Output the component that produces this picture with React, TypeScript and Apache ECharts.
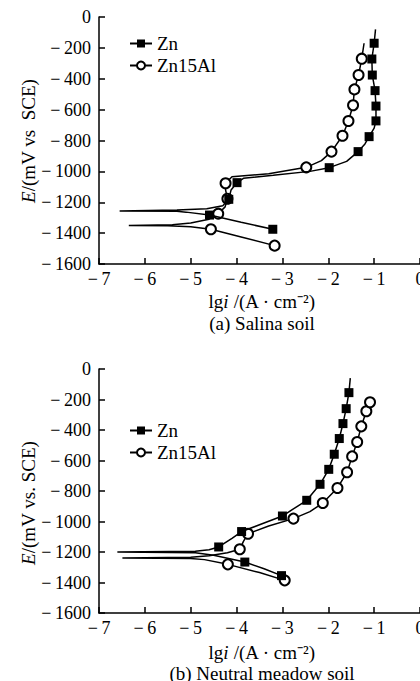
import React, { useEffect, useRef } from "react";
import * as echarts from "echarts";

// [lg i, E (mV), marker flag]
const salinaZn: number[][] = [
  [-3.21, -1375, 1], [-3.9, -1330, 0], [-4.59, -1283, 1], [-5.1, -1264, 0], [-5.3, -1258, 0],
  [-6.55, -1256, 0], [-5.3, -1250, 0], [-4.65, -1242, 0], [-4.3, -1222, 0], [-4.17, -1181, 1],
  [-4.12, -1120, 0], [-3.99, -1073, 1], [-3.85, -1045, 0], [-3.2, -1025, 0], [-2.4, -1000, 0],
  [-1.98, -976, 1], [-1.6, -935, 0], [-1.35, -872, 1], [-1.2, -822, 0], [-1.11, -775, 1],
  [-1.0, -720, 0], [-0.96, -673, 1], [-0.96, -577, 1], [-0.98, -477, 1], [-1.04, -376, 1],
  [-1.05, -272, 1], [-1.0, -170, 1], [-0.97, -80, 0],
];
const salinaZnAl: number[][] = [
  [-3.17, -1481, 1], [-3.9, -1425, 0], [-4.56, -1375, 1], [-5.0, -1358, 0], [-5.5, -1352, 0],
  [-6.35, -1350, 0], [-5.4, -1345, 0], [-5.0, -1335, 0], [-4.6, -1310, 0], [-4.4, -1274, 1],
  [-4.25, -1230, 0], [-4.2, -1177, 1], [-4.24, -1120, 0], [-4.24, -1077, 1], [-4.1, -1035, 0],
  [-3.3, -1015, 0], [-2.48, -974, 1], [-2.15, -930, 0], [-1.93, -872, 1], [-1.69, -769, 1],
  [-1.56, -674, 1], [-1.46, -572, 1], [-1.43, -469, 1], [-1.34, -376, 1], [-1.27, -270, 1],
  [-1.22, -170, 0],
];
const meadowZn: number[][] = [
  [-3.02, -1355, 1], [-3.4, -1310, 0], [-3.82, -1266, 1], [-4.5, -1222, 0], [-4.9, -1205, 0],
  [-6.6, -1200, 0], [-4.9, -1195, 0], [-4.6, -1185, 0], [-4.39, -1167, 1], [-4.1, -1110, 0],
  [-3.89, -1066, 1], [-3.4, -1010, 0], [-3.0, -964, 1], [-2.7, -905, 0], [-2.47, -861, 1],
  [-2.18, -756, 1], [-1.99, -658, 1], [-1.87, -559, 1], [-1.76, -456, 1], [-1.68, -358, 1],
  [-1.61, -260, 1], [-1.55, -155, 1], [-1.52, -60, 0],
];
const meadowZnAl: number[][] = [
  [-2.95, -1386, 1], [-3.5, -1335, 0], [-4.19, -1281, 1], [-4.7, -1250, 0], [-5.0, -1242, 0],
  [-6.49, -1239, 0], [-5.0, -1235, 0], [-4.6, -1225, 0], [-4.2, -1205, 0], [-3.93, -1182, 1],
  [-3.85, -1130, 0], [-3.75, -1080, 1], [-3.3, -1030, 0], [-2.76, -981, 1], [-2.4, -935, 0],
  [-2.12, -879, 1], [-1.8, -780, 1], [-1.59, -677, 1], [-1.48, -573, 1], [-1.37, -479, 1],
  [-1.28, -376, 1], [-1.17, -277, 1], [-1.09, -218, 1],
];

const seriesNames = ["Zn", "Zn15Al"];
const panelTitles = ["(a) Salina soil", "(b) Neutral meadow soil"];
const yNames = ["{i|E}/(mV vs  SCE)", "{i|E}/(mV vs. SCE)"];
const xName = "lg{i|i} /(A · cm\u207B\u00B2)";

const FONT = "Liberation Serif";

const minus = (v: number) => (v < 0 ? "\u2212\u2009" + Math.abs(v) : String(v));

const toData = (arr: number[][]) =>
  arr.map((p) => (p[2] ? { value: [p[0], p[1]] } : { value: [p[0], p[1]], symbol: "none" }));

export default function App() {
  const ref = useRef<HTMLDivElement>(null);
  useEffect(() => {
    if (!ref.current) return;
    const chart = echarts.init(ref.current, undefined, { renderer: "svg" });
    const grids = [
      { left: 99, top: 17, width: 321, height: 247, outerBoundsMode: "none", containLabel: false },
      { left: 99, top: 369, width: 321, height: 244, outerBoundsMode: "none", containLabel: false },
    ];
    const labelStyle = { color: "#000", fontFamily: FONT, fontSize: 18 };
    const xAxis = grids.map((_, i) => ({
      type: "value",
      gridIndex: i,
      min: -7,
      max: 0,
      interval: 1,
      position: "bottom",
      splitLine: { show: false },
      axisLine: { onZero: false, lineStyle: { color: "#000", width: 1.5 } },
      axisTick: { inside: true, length: 6, lineStyle: { color: "#000", width: 1.5 } },
      axisLabel: { ...labelStyle, margin: 6, formatter: minus },
    }));
    const yAxis = grids.map((_, i) => ({
      type: "value",
      gridIndex: i,
      min: -1600,
      max: 0,
      interval: 200,
      position: "left",
      splitLine: { show: false },
      axisLine: { show: true, onZero: false, lineStyle: { color: "#000", width: 1.5 } },
      axisTick: { show: true, inside: true, length: 6, lineStyle: { color: "#000", width: 1.5 } },
      axisLabel: { ...labelStyle, margin: 8, formatter: minus },
    }));
    const sets = [
      [salinaZn, salinaZnAl],
      [meadowZn, meadowZnAl],
    ];
    const series: any[] = [];
    sets.forEach((pair, gi) => {
      pair.forEach((arr, si) => {
        series.push({
          type: "line",
          name: seriesNames[si],
          xAxisIndex: gi,
          yAxisIndex: gi,
          data: toData(arr),
          symbol: si === 0 ? "rect" : "emptyCircle",
          symbolSize: si === 0 ? 9 : 10,
          showSymbol: true,
          lineStyle: { color: "#000", width: 1.5 },
          itemStyle: { color: "#000", borderColor: "#000", borderWidth: si === 0 ? 0 : 1.5 },
          emphasis: { disabled: true },
          z: si === 0 ? 3 : 2,
        });
      });
    });
    const textStyleBase = { fill: "#000", fontFamily: FONT, fontSize: 19 };
    const rich = { i: { fontStyle: "italic", fontFamily: FONT, fontSize: 19, fill: "#000" } };
    const graphic: any[] = [];
    const yNameY = [141, 503];
    const xNameY = [301, 652];
    const subY = [323, 673];
    [0, 1].forEach((i) => {
      graphic.push({
        type: "text",
        x: 28,
        y: yNameY[i],
        rotation: Math.PI / 2,
        style: { ...textStyleBase, text: yNames[i], rich, align: "center", verticalAlign: "middle" },
      });
      graphic.push({
        type: "text",
        x: 262,
        y: xNameY[i],
        style: { ...textStyleBase, text: xName, rich, align: "center", verticalAlign: "middle" },
      });
      graphic.push({
        type: "text",
        x: 262,
        y: subY[i],
        style: { ...textStyleBase, text: panelTitles[i], align: "center", verticalAlign: "middle" },
      });
    });
    const legendTops = [29, 416];
    chart.setOption({
      animation: false,
      backgroundColor: "#fff",
      textStyle: { fontFamily: FONT, color: "#000" },
      grid: grids,
      xAxis,
      yAxis,
      series,
      graphic,
      legend: legendTops.map((t) => ({
        data: seriesNames,
        orient: "vertical",
        left: 124,
        top: t,
        itemWidth: 22,
        itemHeight: 10,
        itemGap: 3,
        selectedMode: false,
        textStyle: { color: "#000", fontFamily: FONT, fontSize: 19 },
      })),
    });
    return () => chart.dispose();
  }, []);
  return (
    <div
      ref={ref}
      style={{ position: "absolute", left: 0, top: 0, width: 420, height: 681, background: "#fff" }}
    />
  );
}
